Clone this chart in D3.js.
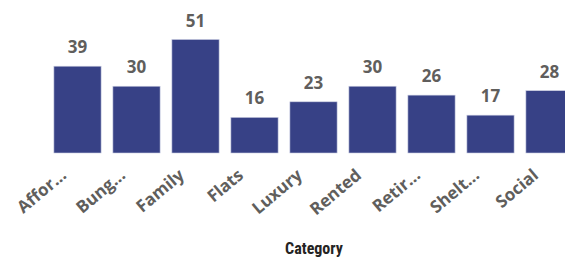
<!DOCTYPE html>
<html><head><meta charset="utf-8">
<script src="https://cdn.jsdelivr.net/npm/d3@7"></script>
<style>body{margin:0;background:#fff;overflow:hidden}</style>
</head><body><svg id="c" width="565" height="263"></svg>
<script>
const categories = ["Affor...","Bung...","Family","Flats","Luxury","Rented","Retir...","Shelt...","Social"];
const values = [39,30,51,16,23,30,26,17,28];
const axisTitle = "Category";

const svg = d3.select("#c");
const x = d3.scaleBand().domain(categories).range([48, 579]).paddingInner(0.2).paddingOuter(0.1);
const y = d3.scaleLinear().domain([0, 51]).range([153, 39.5]);

svg.append("g").selectAll("rect").data(values).join("rect")
  .attr("x", (d,i)=>x(categories[i]))
  .attr("y", d=>y(d))
  .attr("width", x.bandwidth())
  .attr("height", d=>y(0)-y(d))
  .attr("fill", "#374186")
  .attr("stroke", "#c9cce0").attr("stroke-width", 0.6);

svg.append("g").selectAll("text").data(values).join("text")
  .attr("x", (d,i)=>x(categories[i]) + x.bandwidth()/2)
  .attr("y", d=>y(d) - 13)
  .attr("text-anchor", "middle")
  .attr("font-family", "'Open Sans', sans-serif")
  .attr("font-weight", "bold")
  .attr("font-size", 17)
  .attr("fill", "#605e5c")
  .text(d=>d);

const ax = svg.append("g").attr("transform", "translate(0,153)")
  .call(d3.axisBottom(x).tickSize(0).tickPadding(0));
ax.select(".domain").remove();
ax.selectAll("text")
  .attr("font-family", "'Open Sans', sans-serif")
  .attr("font-weight", "bold")
  .attr("font-size", 17)
  .attr("fill", "#605e5c")
  .attr("text-anchor", "end")
  .attr("dy", null).attr("y", 0)
  .attr("transform", "translate(-10,24) rotate(-40)");

svg.append("text")
  .attr("x", 314).attr("y", 254)
  .attr("text-anchor", "middle")
  .attr("font-family", "'Liberation Sans Narrow', 'Roboto Condensed', sans-serif")
  .attr("font-weight", "bold")
  .attr("font-size", 16)
  .attr("fill", "#252423")
  .text(axisTitle);
</script></body></html>
